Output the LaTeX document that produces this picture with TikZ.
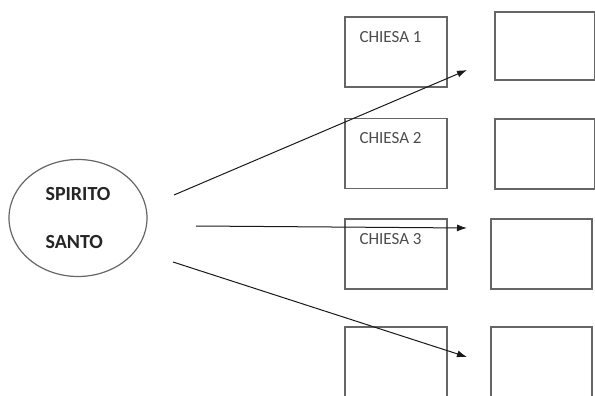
\documentclass[tikz,border=0pt]{standalone}
\usepackage{fontspec}
\setmainfont{Carlito}
\usetikzlibrary{shapes.geometric,arrows.meta,positioning}

\begin{document}
\begin{tikzpicture}[x=1pt,y=-1pt,>={Latex[length=10pt,width=7pt]}]
      \tikzstyle{box}=[shape=rectangle,draw=black!60,line width=1.3pt,minimum width=102pt,minimum height=70pt,inner sep=0pt];
      \tikzstyle{spirit}=[shape=ellipse,draw=black!60,line width=1.2pt,minimum width=138pt,minimum height=117pt,inner sep=0pt,align=left,font=\fontsize{20}{48}\selectfont\bfseries,text=black!85];
      \tikzstyle{lbl}=[inner sep=0pt,font=\fontsize{17}{20}\selectfont,text=black!70];
      \tikzstyle{arrow}=[->,line width=1pt,draw=black!90];

      \useasboundingbox (0,0) rectangle (595,396);

      \node[spirit](SS) at (78,218) {SPIRITO\\SANTO};

      \node[box](C1) at (396,52) {};
      \node[box](C2) at (396,153.5) {};
      \node[box](C3) at (396,254) {};
      \node[box](C4) at (396,362) {};
      \node[box,minimum width=100pt,minimum height=68pt](R1) at (545,46) {};
      \node[box,minimum width=100pt](R2) at (545,154) {};
      \node[box,minimum width=101pt](R3) at (541.5,254) {};
      \node[box,minimum width=101pt](R4) at (541.5,362) {};

      \node[lbl,below right=14.5pt and 15pt of C1.north west](T1) {CHIESA 1};
      \node[lbl,below right=14.5pt and 15pt of C2.north west](T2) {CHIESA 2};
      \node[lbl,below right=14.5pt and 15pt of C3.north west](T3) {CHIESA 3};

      \coordinate (a1) at (174,195);
      \coordinate (a2) at (196,226);
      \coordinate (a3) at (173,262);
      \coordinate (b1) at (467,70);
      \coordinate (b2) at (467,228);
      \coordinate (b3) at (467,357);

      \path (a1) edge[arrow] (b1);
      \path (a2) edge[arrow] (b2);
      \path (a3) edge[arrow] (b3);

    \end{tikzpicture}
\end{document}
